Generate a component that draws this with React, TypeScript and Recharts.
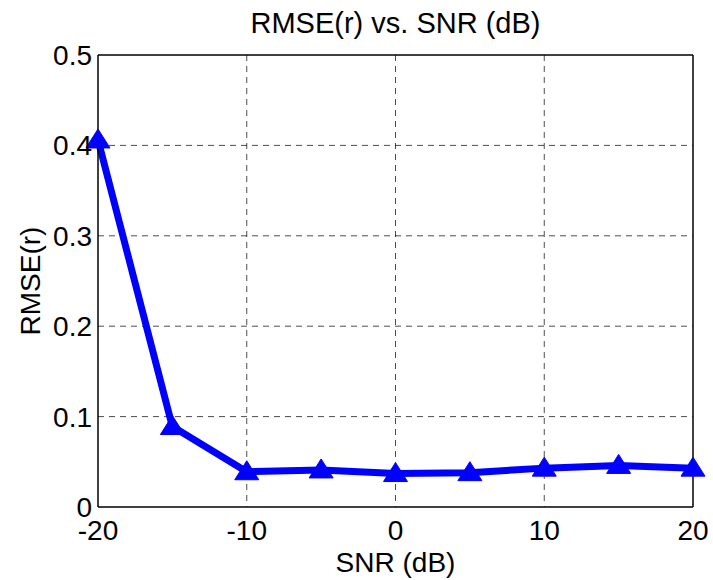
import { LineChart, Line, XAxis, YAxis, CartesianGrid, ReferenceLine } from "recharts";

const snr = [-20, -15, -10, -5, 0, 5, 10, 15, 20];
const rmse = [0.406, 0.089, 0.039, 0.041, 0.037, 0.038, 0.043, 0.046, 0.043];
const xTicks = [-20, -10, 0, 10, 20];
const yTicks = [0, 0.1, 0.2, 0.3, 0.4, 0.5];

const data = snr.map((s, i) => ({ snr: s, rmse: rmse[i] }));

const font = "'Liberation Sans', Arial, sans-serif";

// filled triangle marker like MATLAB's '^'
const Triangle = (props: any) => {
  const { cx, cy } = props;
  if (cx == null || cy == null) return null;
  return (
    <polygon
      points={`${cx},${cy - 11} ${cx - 12},${cy + 8} ${cx + 12},${cy + 8}`}
      fill="#0000ff"
      stroke="#0000ff"
    />
  );
};

export default function App() {
  return (
    <div style={{ position: "absolute", left: 0, top: 0, width: 713, height: 580, background: "#fff" }}>
      <div
        style={{
          position: "absolute",
          top: 7,
          left: 98,
          width: 595,
          textAlign: "center",
          fontFamily: font,
          fontSize: 29,
          lineHeight: "normal",
        }}
      >
        RMSE(r) vs. SNR (dB)
      </div>
      <LineChart
        width={713}
        height={580}
        data={data}
        margin={{ top: 55, right: 20, bottom: 7, left: 0 }}
      >
        <CartesianGrid
          stroke="#000"
          strokeOpacity={0.7}
          strokeDasharray="6 5"
          horizontalValues={[0.1, 0.2, 0.3, 0.4]}
          verticalValues={[-10, 0, 10]}
        />
        <XAxis
          dataKey="snr"
          type="number"
          domain={[-20, 20]}
          ticks={xTicks}
          height={66}
          axisLine={{ stroke: "#000", strokeWidth: 1.5 }}
          tickLine={false}
          tickSize={0}
          tickMargin={13}
          tick={{ fill: "#000", fontSize: 28, fontFamily: font }}
          label={{ value: "SNR (dB)", position: "insideBottom", offset: 1, fill: "#000", fontSize: 28, fontFamily: font }}
        />
        <YAxis
          type="number"
          domain={[0, 0.5]}
          ticks={yTicks}
          width={98}
          axisLine={{ stroke: "#000", strokeWidth: 1.5 }}
          tickLine={false}
          tickSize={0}
          tickMargin={6}
          tick={{ fill: "#000", fontSize: 28, fontFamily: font }}
          tickFormatter={(v: number) => String(v)}
          label={{ value: "RMSE(r)", angle: -90, position: "insideLeft", offset: 30, style: { textAnchor: "middle" }, fill: "#000", fontSize: 28, fontFamily: font }}
        />
        <ReferenceLine y={0.5} stroke="#000" strokeWidth={1.5} />
        <ReferenceLine x={20} stroke="#000" strokeWidth={1.5} />
        <Line
          dataKey="rmse"
          stroke="#0000ff"
          strokeWidth={7}
          strokeLinejoin="round"
          dot={<Triangle />}
          activeDot={false}
          isAnimationActive={false}
        />
      </LineChart>
    </div>
  );
}
